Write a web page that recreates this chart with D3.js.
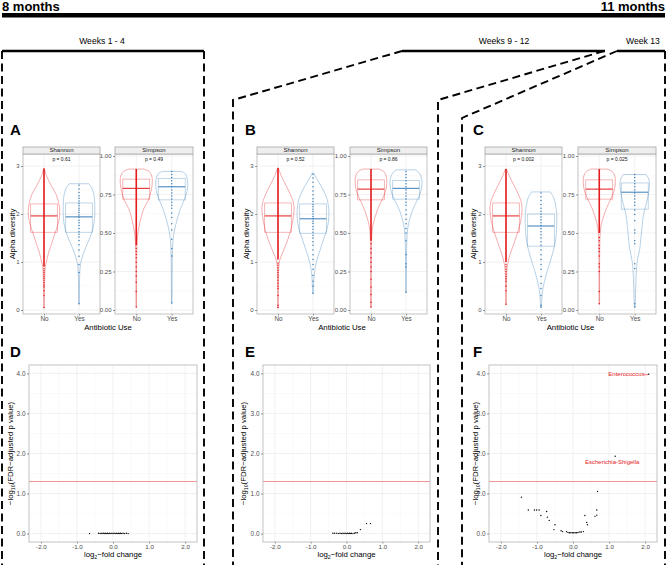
<!DOCTYPE html>
<html>
<head>
<meta charset="utf-8">
<script src="https://cdn.jsdelivr.net/npm/d3@7"></script>
<style>
  body { margin: 0; background: #fff; }
  svg { display: block; font-family: "Liberation Sans", Arial, sans-serif; }
</style>
</head>
<body>
<div id="vis"></div>
<script>
// ---- data ----
const upperLetters = ["A", "B", "C"];
const lowerLetters = ["D", "E", "F"];
const metrics = ["Shannon", "Simpson"];
const groups = ["No", "Yes"];
const pLabels = [["p = 0.61", "p = 0.49"], ["p = 0.52", "p = 0.86"], ["p = 0.002", "p = 0.025"]];
const periodLabels = ["Weeks 1 - 4", "Weeks 9 - 12", "Week 13"];
const shannonTicks = [0, 1, 2, 3];
const simpsonTicks = [0, 0.25, 0.5, 0.75, 1];
const fcTicks = [-2, -1, 0, 1, 2];
const pvTicks = [0, 1, 2, 3, 4];

// box stats [q1, median, q3]; order: Shannon-No, Shannon-Yes, Simpson-No, Simpson-Yes
const boxA = [[1.62, 1.96, 2.21], [1.62, 1.94, 2.23], [0.72, 0.79, 0.85], [0.715, 0.80, 0.855]];
const boxB = [[1.62, 1.96, 2.23], [1.60, 1.90, 2.21], [0.715, 0.785, 0.845], [0.72, 0.79, 0.84]];
const boxC = [[1.62, 1.96, 2.23], [1.33, 1.75, 2.00], [0.72, 0.785, 0.845], [0.655, 0.765, 0.825]];

// violin outlines: [value, relative half width]
const violinA = [
  [[2.95,0.02],[2.8,0.15],[2.6,0.45],[2.4,0.78],[2.2,0.95],[2.0,1.0],[1.8,0.9],[1.6,0.7],[1.4,0.5],[1.2,0.3],[1.0,0.15],[0.9,0.08],[0.7,0.05],[0.4,0.03],[0.05,0.02]],
  [[2.63,0.62],[2.55,0.8],[2.4,0.95],[2.2,1.0],[2.0,1.0],[1.8,0.95],[1.6,0.8],[1.4,0.55],[1.2,0.3],[1.0,0.12],[0.8,0.05],[0.5,0.03],[0.13,0.02]],
  [[0.915,0.47],[0.9,0.8],[0.87,0.97],[0.82,1.0],[0.77,0.92],[0.71,0.74],[0.66,0.48],[0.6,0.3],[0.54,0.17],[0.48,0.08],[0.4,0.04],[0.2,0.02],[0.02,0.02]],
  [[0.9,0.55],[0.89,0.8],[0.86,0.95],[0.8,1.0],[0.75,0.9],[0.7,0.72],[0.65,0.52],[0.6,0.37],[0.55,0.24],[0.5,0.14],[0.45,0.08],[0.35,0.04],[0.2,0.025],[0.045,0.02]]
];
const violinB = [
  [[2.96,0.03],[2.8,0.2],[2.6,0.5],[2.4,0.8],[2.2,1.0],[2.0,1.0],[1.8,0.9],[1.6,0.75],[1.4,0.55],[1.2,0.3],[1.05,0.12],[0.9,0.05],[0.6,0.03],[0.05,0.02]],
  [[2.85,0.05],[2.7,0.3],[2.5,0.65],[2.3,0.9],[2.1,1.0],[1.9,1.0],[1.7,0.9],[1.5,0.7],[1.3,0.5],[1.1,0.3],[0.9,0.15],[0.7,0.07],[0.5,0.04],[0.35,0.02]],
  [[0.915,0.5],[0.9,0.8],[0.87,0.97],[0.82,1.0],[0.77,0.92],[0.72,0.72],[0.66,0.45],[0.6,0.25],[0.55,0.12],[0.5,0.06],[0.4,0.03],[0.2,0.02],[0.02,0.02]],
  [[0.91,0.6],[0.89,0.85],[0.85,1.0],[0.8,1.0],[0.75,0.88],[0.7,0.65],[0.65,0.42],[0.6,0.26],[0.55,0.14],[0.5,0.08],[0.4,0.04],[0.25,0.025],[0.115,0.02]]
];
const violinC = [
  [[2.94,0.03],[2.8,0.2],[2.6,0.5],[2.4,0.8],[2.2,1.0],[2.0,1.0],[1.8,0.9],[1.6,0.72],[1.4,0.52],[1.2,0.3],[1.0,0.13],[0.8,0.05],[0.5,0.03],[0.12,0.02]],
  [[2.46,0.6],[2.35,0.8],[2.2,0.92],[2.0,1.0],[1.8,1.0],[1.6,0.97],[1.4,0.9],[1.2,0.75],[1.0,0.58],[0.8,0.38],[0.6,0.22],[0.4,0.1],[0.2,0.05],[0.06,0.03]],
  [[0.915,0.5],[0.9,0.8],[0.87,0.97],[0.82,1.0],[0.77,0.92],[0.72,0.72],[0.66,0.45],[0.6,0.25],[0.55,0.12],[0.5,0.06],[0.4,0.03],[0.2,0.02],[0.04,0.02]],
  [[0.88,0.7],[0.85,0.88],[0.8,0.92],[0.75,0.85],[0.7,0.75],[0.65,0.62],[0.6,0.52],[0.55,0.47],[0.5,0.42],[0.45,0.37],[0.4,0.32],[0.35,0.22],[0.3,0.14],[0.2,0.08],[0.1,0.05],[0.02,0.03]]
];

// dense columns of points [low, high] (null where points are sparse)
const denseA = [[0.9, 2.95], null, [0.42, 0.915], null];
const denseB = [[1.05, 2.96], null, [0.45, 0.915], null];
const denseC = [[1.0, 2.94], null, [0.5, 0.915], null];

// individual points
const pointsA = [
  [0.05,0.3,0.4,0.48,0.52,0.57,0.62,0.66,0.7,0.74,0.78,0.82,0.86],
  [0.13,0.78,0.95,1.12,1.25,1.36,1.45,1.52,1.58,1.63,1.7,1.76,1.82,1.87,1.93,1.98,2.03,2.08,2.12,2.17,2.22,2.27,2.33,2.38,2.45,2.52,2.6],
  [0.02,0.12,0.18,0.22,0.25,0.28,0.31,0.34,0.36,0.38,0.4],
  [0.045,0.35,0.4,0.46,0.52,0.56,0.6,0.63,0.66,0.68,0.7,0.72,0.74,0.76,0.78,0.8,0.82,0.84,0.86,0.88,0.9]
];
const pointsB = [
  [0.05,0.1,0.3,0.45,0.5,0.56,0.62,0.68,0.73,0.78,0.83,0.88,0.93,0.98],
  [0.35,0.5,0.6,0.72,0.85,0.95,1.05,1.15,1.25,1.35,1.42,1.5,1.56,1.62,1.68,1.74,1.8,1.85,1.9,1.95,2.0,2.05,2.1,2.15,2.2,2.26,2.32,2.4,2.48,2.57,2.66,2.75,2.83],
  [0.02,0.05,0.1,0.15,0.2,0.25,0.28,0.31,0.34,0.37,0.4,0.43],
  [0.115,0.28,0.3,0.36,0.45,0.5,0.53,0.56,0.59,0.62,0.65,0.68,0.7,0.72,0.74,0.76,0.78,0.8,0.82,0.84,0.86,0.88,0.9]
];
const pointsC = [
  [0.12,0.4,0.5,0.6,0.65,0.7,0.75,0.8,0.85,0.9,0.95],
  [0.06,0.1,0.3,0.45,0.55,0.7,0.85,0.95,1.05,1.15,1.25,1.35,1.42,1.5,1.57,1.63,1.7,1.76,1.82,1.88,1.94,2.0,2.06,2.12,2.2,2.28,2.36,2.44],
  [0.04,0.12,0.25,0.28,0.3,0.35,0.38,0.4,0.42,0.45,0.47],
  [0.02,0.04,0.27,0.3,0.43,0.45,0.5,0.52,0.58,0.62,0.65,0.68,0.7,0.72,0.74,0.76,0.78,0.8,0.82,0.84,0.86,0.88]
];

// volcano points [log2 fold change, -log10 adjusted p]
const volcanoD = [[-0.65,0.0],[-0.4,0.01],[-0.36,0.0],[-0.33,0.01],[-0.3,0.0],[-0.27,0.01],[-0.24,0.0],[-0.21,0.01],[-0.18,0.0],[-0.15,0.01],[-0.12,0.0],[-0.09,0.01],[-0.06,0.0],[-0.03,0.01],[0.0,0.0],[0.03,0.01],[0.06,0.0],[0.09,0.01],[0.12,0.0],[0.15,0.01],[0.18,0.0],[0.21,0.01],[0.24,0.0],[0.28,0.01],[0.32,0.0],[0.37,0.01],[0.42,0.0]];
const volcanoE = [[-0.38,0.01],[-0.33,0.01],[-0.27,0.01],[-0.22,0.0],[-0.18,0.01],[-0.14,0.0],[-0.1,0.01],[-0.07,0.0],[-0.04,0.01],[-0.01,0.0],[0.02,0.01],[0.05,0.0],[0.08,0.01],[0.11,0.0],[0.14,0.01],[0.18,0.0],[0.22,0.01],[0.26,0.02],[0.3,0.02],[0.39,0.1],[0.56,0.25],[0.67,0.25]];
const volcanoF = [[-1.43,0.91],[-1.24,0.59],[-1.07,0.59],[-1.01,0.59],[-0.94,0.59],[-0.89,0.45],[-0.73,0.55],[-0.71,0.41],[-0.66,0.33],[-0.5,0.22],[-0.53,0.1],[-0.33,0.07],[-0.29,0.05],[-0.18,0.05],[-0.14,0.03],[-0.1,0.02],[-0.06,0.02],[-0.02,0.02],[0.02,0.02],[0.06,0.02],[0.1,0.02],[0.14,0.03],[0.19,0.04],[0.23,0.04],[0.29,0.05],[0.33,0.45],[0.38,0.28],[0.4,0.22],[0.61,0.43],[0.66,0.46],[0.66,0.59],[0.68,1.05]];
const labelsF = [["Enterococcus", 2.1, 3.98], ["Escherichia-Shigella", 1.17, 1.93]];
const pThreshold = 1.3;

// ---- layout ----
const W = 667, H = 565;
const red = "#E41A1C", blue = "#377EB8";
const colors = [red, blue];
const upperX = [[[23, 100], [115, 193]], [[257, 334], [350, 427]], [[485, 562], [578, 656]]];
const lowerX = [[29, 197], [263, 430], [489, 657]];
const letterX = [10, 245, 473];
const ytitleUpperX = [15, 249, 476];
const ytitleLowerX = [13, 246, 478];
const stripTop = 147, panelTop = 154, panelBottom = 314;
const lowTop = 365, lowBottom = 542;

const svg = d3.select("#vis").append("svg").attr("width", W).attr("height", H);

// timeline header
svg.append("text").attr("x", 2).attr("y", 11).attr("font-size", 13).attr("font-weight", "bold").text("8 months");
svg.append("text").attr("x", 665).attr("y", 11).attr("font-size", 13).attr("font-weight", "bold")
  .attr("text-anchor", "end").text("11 months");
svg.append("rect").attr("x", 2).attr("y", 13).attr("width", 663).attr("height", 4.5).attr("fill", "#000");

const bracketX = [[2, 204], [402, 605], [617, 665]];
const periodX = [102, 504, 643];
periodLabels.forEach((t, i) => {
  svg.append("text").attr("x", periodX[i]).attr("y", 44).attr("font-size", 8.6)
    .attr("text-anchor", "middle").text(t);
  svg.append("line").attr("x1", bracketX[i][0]).attr("x2", bracketX[i][1])
    .attr("y1", 51).attr("y2", 51).attr("stroke", "#000").attr("stroke-width", 2.4);
});

const dashed = [
  [[2, 51], [2, 565]],
  [[204, 51], [204, 565]],
  [[402, 51], [233, 100], [233, 565]],
  [[604, 51], [438, 100], [438, 565]],
  [[617, 51], [462, 118], [462, 565]],
  [[665, 51], [665, 565]]
];
dashed.forEach(p => {
  svg.append("path").attr("d", d3.line()(p)).attr("fill", "none")
    .attr("stroke", "#000").attr("stroke-width", 1.9).attr("stroke-dasharray", "8,4.5");
});

// ---- helpers ----
const minus = s => s.replace("\u2212", "-");
function mids(t) { return d3.pairs(t).map(([a, b]) => (a + b) / 2); }

function styleAxis(g, size) {
  g.select(".domain").remove();
  g.selectAll(".tick line").attr("stroke", "#333").attr("stroke-width", 0.5);
  g.selectAll(".tick text").attr("fill", "#4d4d4d").attr("font-size", size)
    .attr("font-family", "Liberation Sans, Arial, sans-serif");
}

// ---- upper panels (A-C) ----
const boxes = [boxA, boxB, boxC];
const violins = [violinA, violinB, violinC];
const denses = [denseA, denseB, denseC];
const points = [pointsA, pointsB, pointsC];

upperLetters.forEach((letter, pi) => {
  svg.append("text").attr("x", letterX[pi]).attr("y", 135).attr("font-size", 15)
    .attr("font-weight", "bold").text(letter);

  metrics.forEach((m, mi) => {
    const [x0, x1] = upperX[pi][mi];
    const ticks = mi === 0 ? shannonTicks : simpsonTicks;
    const y = mi === 0
      ? d3.scaleLinear().domain([-0.083, 3.25]).range([panelBottom, panelTop])
      : d3.scaleLinear().domain([-0.026, 1.013]).range([panelBottom, panelTop]);
    const xs = d3.scalePoint().domain(groups).range([x0, x1]).padding(0.6);
    const step = xs.step();
    const g = svg.append("g");

    // grid
    g.selectAll(".ymin").data(mids(ticks)).enter().append("line")
      .attr("x1", x0).attr("x2", x1).attr("y1", d => y(d)).attr("y2", d => y(d))
      .attr("stroke", "#f3f3f3").attr("stroke-width", 0.4);
    g.selectAll(".ymaj").data(ticks).enter().append("line")
      .attr("x1", x0).attr("x2", x1).attr("y1", d => y(d)).attr("y2", d => y(d))
      .attr("stroke", "#e8e8e8").attr("stroke-width", 0.6);
    g.selectAll(".xmaj").data(groups).enter().append("line")
      .attr("x1", d => xs(d)).attr("x2", d => xs(d)).attr("y1", panelTop).attr("y2", panelBottom)
      .attr("stroke", "#e8e8e8").attr("stroke-width", 0.6);

    groups.forEach((grp, gi) => {
      const k = mi * 2 + gi;
      const cx = xs(grp), col = colors[gi];
      const hw = step * 0.45;
      const area = d3.area()
        .y(d => y(d[0]))
        .x0(d => cx - d[1] * hw)
        .x1(d => cx + d[1] * hw)
        .curve(d3.curveCatmullRom);
      g.append("path").attr("d", area(violins[pi][k])).attr("fill", "none")
        .attr("stroke", col).attr("stroke-opacity", 0.6).attr("stroke-width", 0.6);

      const [q1, med, q3] = boxes[pi][k];
      const bw = step * 0.76;
      g.append("rect").attr("x", cx - bw / 2).attr("width", bw)
        .attr("y", y(q3)).attr("height", y(q1) - y(q3))
        .attr("fill", "none").attr("stroke", col).attr("stroke-opacity", 0.45).attr("stroke-width", 0.7);
      g.append("line").attr("x1", cx - bw / 2).attr("x2", cx + bw / 2)
        .attr("y1", y(med)).attr("y2", y(med)).attr("stroke", col).attr("stroke-width", 1);

      const dn = denses[pi][k];
      if (dn) {
        g.append("line").attr("x1", cx).attr("x2", cx).attr("y1", y(dn[0])).attr("y2", y(dn[1]))
          .attr("stroke", col).attr("stroke-width", 1.6);
      }
      g.selectAll(null).data(points[pi][k]).enter().append("circle")
        .attr("cx", cx).attr("cy", d => y(d)).attr("r", 0.75).attr("fill", col);
    });

    // border
    g.append("rect").attr("x", x0).attr("y", panelTop).attr("width", x1 - x0).attr("height", panelBottom - panelTop)
      .attr("fill", "none").attr("stroke", "#b3b3b3").attr("stroke-width", 0.8);
    // strip
    g.append("rect").attr("x", x0).attr("y", stripTop).attr("width", x1 - x0).attr("height", panelTop - stripTop)
      .attr("fill", "#eeeeee").attr("stroke", "#a6a6a6").attr("stroke-width", 0.8);
    g.append("text").attr("x", (x0 + x1) / 2).attr("y", panelTop - 1.6).attr("text-anchor", "middle")
      .attr("font-size", 6).attr("fill", "#1a1a1a").text(m);
    g.append("text").attr("x", (x0 + x1) / 2).attr("y", panelTop + 7).attr("text-anchor", "middle")
      .attr("font-size", 5).attr("fill", "#111").text(pLabels[pi][mi]);

    // axes
    const ya = g.append("g").attr("transform", `translate(${x0},0)`)
      .call(d3.axisLeft(y).tickValues(ticks).tickSize(2).tickPadding(1.5)
        .tickFormat(mi === 0 ? d3.format("d") : d3.format(".2f")));
    styleAxis(ya, 6);
    const xa = g.append("g").attr("transform", `translate(0,${panelBottom})`)
      .call(d3.axisBottom(xs).tickSize(1.5).tickPadding(0.8));
    styleAxis(xa, 6.4);
  });

  const px = upperX[pi];
  svg.append("text").attr("x", (px[0][0] + px[1][1]) / 2).attr("y", 330).attr("text-anchor", "middle")
    .attr("font-size", 7.8).text("Antibiotic Use");
  svg.append("text").attr("transform", `translate(${ytitleUpperX[pi]},${(panelTop + panelBottom) / 2}) rotate(-90)`)
    .attr("text-anchor", "middle").attr("font-size", 7.8).text("Alpha diversity");
});

// ---- lower panels (D-F) ----
const volcanos = [volcanoD, volcanoE, volcanoF];
lowerLetters.forEach((letter, pi) => {
  const [x0, x1] = lowerX[pi];
  const x = d3.scaleLinear().domain([-2.33, 2.33]).range([x0, x1]);
  const y = d3.scaleLinear().domain([-0.21, 4.21]).range([lowBottom, lowTop]);
  const g = svg.append("g");

  svg.append("text").attr("x", letterX[pi]).attr("y", 357).attr("font-size", 15)
    .attr("font-weight", "bold").text(letter);

  g.selectAll(".xmin").data(mids(fcTicks)).enter().append("line")
    .attr("x1", d => x(d)).attr("x2", d => x(d)).attr("y1", lowTop).attr("y2", lowBottom)
    .attr("stroke", "#f3f3f3").attr("stroke-width", 0.4);
  g.selectAll(".ymin").data(mids(pvTicks)).enter().append("line")
    .attr("x1", x0).attr("x2", x1).attr("y1", d => y(d)).attr("y2", d => y(d))
    .attr("stroke", "#f3f3f3").attr("stroke-width", 0.4);
  g.selectAll(".xmaj").data(fcTicks).enter().append("line")
    .attr("x1", d => x(d)).attr("x2", d => x(d)).attr("y1", lowTop).attr("y2", lowBottom)
    .attr("stroke", "#e8e8e8").attr("stroke-width", 0.6);
  g.selectAll(".ymaj").data(pvTicks).enter().append("line")
    .attr("x1", x0).attr("x2", x1).attr("y1", d => y(d)).attr("y2", d => y(d))
    .attr("stroke", "#e8e8e8").attr("stroke-width", 0.6);

  g.append("line").attr("x1", x0).attr("x2", x1).attr("y1", y(pThreshold)).attr("y2", y(pThreshold))
    .attr("stroke", "#ee7777").attr("stroke-width", 0.8);

  g.selectAll(null).data(volcanos[pi]).enter().append("circle")
    .attr("cx", d => x(d[0])).attr("cy", d => y(d[1])).attr("r", 0.7).attr("fill", "#000");

  if (pi === 2) {
    labelsF.forEach(([name, lx, ly], li) => {
      g.append("circle").attr("cx", x(lx)).attr("cy", y(ly)).attr("r", 0.7).attr("fill", "#000");
      if (li === 0) {
        g.append("line").attr("x1", x(lx) - 4).attr("x2", x(lx) - 0.5).attr("y1", y(ly) + 0.5).attr("y2", y(ly) + 0.5)
          .attr("stroke", red).attr("stroke-width", 0.6);
        g.append("text").attr("x", x(lx) - 4).attr("y", y(ly) + 2.2).attr("text-anchor", "end")
          .attr("font-size", 6).attr("fill", red).text(name);
      } else {
        g.append("text").attr("x", x(lx) - 3).attr("y", y(ly) + 7.5).attr("text-anchor", "middle")
          .attr("font-size", 6).attr("fill", red).text(name);
      }
    });
  }

  g.append("rect").attr("x", x0).attr("y", lowTop).attr("width", x1 - x0).attr("height", lowBottom - lowTop)
    .attr("fill", "none").attr("stroke", "#b3b3b3").attr("stroke-width", 0.8);

  const ya = g.append("g").attr("transform", `translate(${x0},0)`)
    .call(d3.axisLeft(y).tickValues(pvTicks).tickSize(2).tickPadding(1.5).tickFormat(d => minus(d3.format(".1f")(d))));
  styleAxis(ya, 6.4);
  const xa = g.append("g").attr("transform", `translate(0,${lowBottom})`)
    .call(d3.axisBottom(x).tickValues(fcTicks).tickSize(1.5).tickPadding(0.6).tickFormat(d => minus(d3.format(".1f")(d))));
  styleAxis(xa, 6.2);

  const xt = svg.append("text").attr("x", (x0 + x1) / 2).attr("y", 557).attr("text-anchor", "middle").attr("font-size", 7.8);
  xt.append("tspan").text("log");
  xt.append("tspan").attr("font-size", 5.2).attr("dy", 1.8).text("2");
  xt.append("tspan").attr("dy", -1.8).text("\u2212fold change");

  const yt = svg.append("text")
    .attr("transform", `translate(${ytitleLowerX[pi]},${(lowTop + lowBottom) / 2}) rotate(-90)`)
    .attr("text-anchor", "middle").attr("font-size", 7.8);
  yt.append("tspan").text("\u2212log");
  yt.append("tspan").attr("font-size", 5.2).attr("dy", 1.8).text("10");
  yt.append("tspan").attr("dy", -1.8).text("(FDR\u2212adjusted p value)");
});
</script>
</body>
</html>
